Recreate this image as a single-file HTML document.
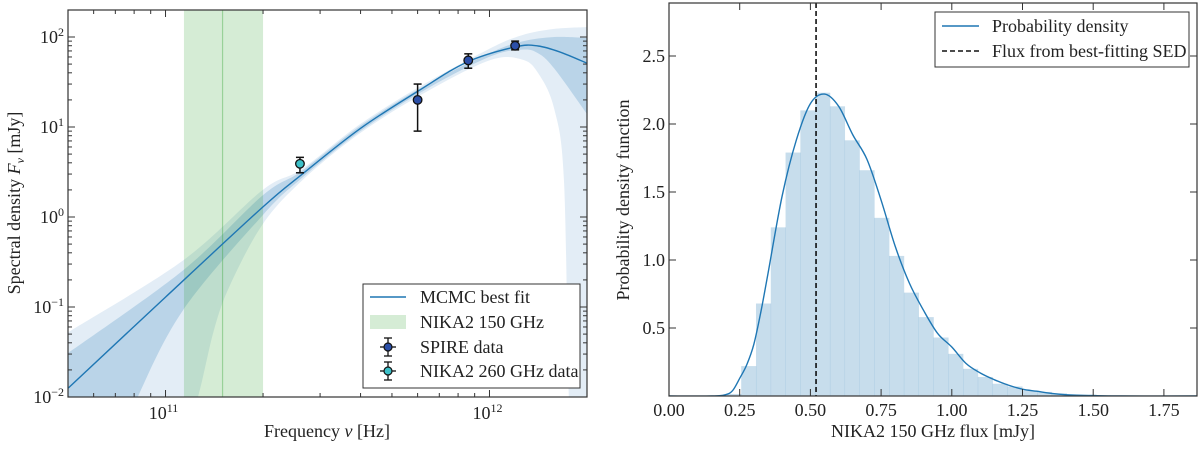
<!DOCTYPE html>
<html><head><meta charset="utf-8"><style>
html,body{margin:0;padding:0;background:#fff;}
svg, svg text{font-family:"Liberation Serif","Times New Roman",serif;}
</style></head><body>
<svg id="fig" width="1200" height="444" viewBox="0 0 1200 444" font-family="Liberation Serif, serif">
<defs>
<clipPath id="clipL"><rect x="68" y="10" width="519" height="387"/></clipPath>
<clipPath id="clipR"><rect x="669" y="3" width="528" height="393"/></clipPath>
</defs>
<g id="left"></g>
<g id="right"></g>
</svg>
<script>
// ---------- SED chart data (log10 frequency, log10 flux) ----------
const fitLogNu   = [10.70, 11.0, 11.3, 11.42, 11.6, 11.78, 11.93, 12.08, 12.15, 12.22, 12.30];
const fitLogS    = [-1.90, -0.89, 0.11, 0.47, 0.98, 1.40, 1.72, 1.89, 1.90, 1.83, 1.71];
const in1UpNu    = [10.70, 11.055, 11.3, 11.42, 11.6, 11.8, 12.0, 12.1, 12.2, 12.3];
const in1UpS     = [-1.51, -0.59, 0.24, 0.51, 1.01, 1.46, 1.82, 1.95, 2.00, 1.99];
const out2UpNu   = [10.70, 11.055, 11.3, 11.42, 11.6, 11.8, 12.0, 12.1, 12.2, 12.3];
const out2UpS    = [-1.28, -0.48, 0.30, 0.53, 1.03, 1.48, 1.87, 2.02, 2.09, 2.11];
const in1LoNu    = [10.85, 10.914, 11.055, 11.3, 11.42, 11.6, 11.8, 12.0, 12.1, 12.15, 12.2, 12.3];
const in1LoS     = [-2.6, -2.0, -1.03, 0.02, 0.43, 0.95, 1.41, 1.78, 1.86, 1.82, 1.65, 1.15];
const out2LoNu   = [11.05, 11.10, 11.15, 11.2, 11.3, 11.42, 11.6, 11.8, 12.0, 12.1, 12.15, 12.2, 12.23, 12.245, 12.26, 12.3];
const out2LoS    = [-2.5, -2.0, -1.25, -0.75, -0.08, 0.40, 0.93, 1.38, 1.74, 1.75, 1.6, 1.2, 0.4, -2.0, -2.6, -2.6];
const bandNu     = [1.14e11, 2.0e11];
const bandCenter = 1.5e11;
const spireNu    = [6.0e11, 8.6e11, 1.2e12];
const spireS     = [20, 55, 80];
const spireLo    = [9, 45, 72];
const spireHi    = [30, 65, 90];
const nikaNu     = [2.6e11];
const nikaS      = [3.9];
const nikaLo     = [3.1];
const nikaHi     = [4.6];
const xTickExp   = [11, 12];
const yTickExp   = [-2, -1, 0, 1, 2];

// ---------- PDF chart data ----------
const binStart   = 0.203;
const binWidth   = 0.0523;
const binHeights = [0.015,0.22,0.68,1.24,1.79,2.10,2.23,2.13,1.88,1.66,1.31,1.03,0.76,0.58,0.43,0.31,0.20,0.14,0.09,0.07,0.04,0.03,0.02,0.01,0.01,0.005];
const kdeX = [0,0.15,0.2,0.225,0.25,0.275,0.3,0.325,0.35,0.4,0.45,0.5,0.55,0.6,0.65,0.7,0.75,0.8,0.85,0.9,0.95,1.0,1.05,1.1,1.15,1.2,1.25,1.3,1.35,1.4,1.5,1.6,1.87];
const kdeY = [0,0,0.01,0.04,0.13,0.23,0.38,0.62,0.90,1.47,1.88,2.15,2.22,2.13,1.92,1.74,1.44,1.10,0.83,0.63,0.46,0.36,0.24,0.17,0.12,0.08,0.05,0.035,0.02,0.01,0.003,0,0];
const bestFlux = 0.52;
const xTicksR = ["0.00","0.25","0.50","0.75","1.00","1.25","1.50","1.75"];
const yTicksR = ["0.5","1.0","1.5","2.0","2.5"];

const NS="http://www.w3.org/2000/svg";
const FF="Liberation Serif, serif";
function el(tag,attrs,parent){const e=document.createElementNS(NS,tag);for(const k in attrs)e.setAttribute(k,attrs[k]);if(tag==='text')e.setAttribute('font-family',FF);parent.appendChild(e);return e;}
function crPath(pts){
  let d="M"+pts[0][0].toFixed(2)+","+pts[0][1].toFixed(2);
  for(let i=0;i<pts.length-1;i++){
    const p0=pts[Math.max(0,i-1)],p1=pts[i],p2=pts[i+1],p3=pts[Math.min(pts.length-1,i+2)];
    const c1=[p1[0]+(p2[0]-p0[0])/6,p1[1]+(p2[1]-p0[1])/6];
    const c2=[p2[0]-(p3[0]-p1[0])/6,p2[1]-(p3[1]-p1[1])/6];
    d+=" C"+c1[0].toFixed(2)+","+c1[1].toFixed(2)+" "+c2[0].toFixed(2)+","+c2[1].toFixed(2)+" "+p2[0].toFixed(2)+","+p2[1].toFixed(2);
  }
  return d;
}
function crPts(pts){ return crPath(pts).replace(/^M[^ ]+/,""); }

// ---------- LEFT ----------
(function(){
const g=document.getElementById('left');
const L=68,R=587,T=10,B=397;
const lx0=Math.log10(5e10), lx1=Math.log10(2e12), ly0=-2, ly1=2.3;
const X=lv=>L+(lv-lx0)/(lx1-lx0)*(R-L);
const Y=lv=>B-(lv-ly0)/(ly1-ly0)*(B-T);
const xf=v=>X(Math.log10(v)), yf=v=>Y(Math.log10(v));
const cg=el('g',{'clip-path':'url(#clipL)'},g);


function bandPath(upNu,upS,loNu,loS){
  const up=upNu.map((n,i)=>[X(n),Y(upS[i])]);
  const lo=loNu.map((n,i)=>[X(n),Y(loS[i])]);
  const upFull=[[L-5,up[0][1]-(up[1][1]-up[0][1])/(up[1][0]-up[0][0])*(up[0][0]-L+5)]].concat(up);
  let d=crPath(upFull);
  d+=" L"+(R+5)+","+up[up.length-1][1]+" L"+(R+5)+","+lo[lo.length-1][1];
  const loR=lo.slice().reverse();
  d+=" L"+loR[0][0]+","+loR[0][1]+crPts(loR);
  d+=" L"+(L-5)+","+(B+20)+" Z";
  return d;
}
const ob=el('path',{d:bandPath(out2UpNu,out2UpS,out2LoNu,out2LoS),fill:'#e3edf6'},cg);


const ib=el('path',{d:bandPath(in1UpNu,in1UpS,in1LoNu,in1LoS),fill:'#bad4e8'},cg);


const gb=el('rect',{x:xf(bandNu[0]),y:T,width:xf(bandNu[1])-xf(bandNu[0]),height:B-T,fill:'#2ca02c','fill-opacity':0.2},cg);


const gl=el('line',{x1:xf(bandCenter),x2:xf(bandCenter),y1:T,y2:B,stroke:'#2ca02c','stroke-opacity':0.35,'stroke-width':1.2},cg);


const fit=el('path',{d:crPath(fitLogNu.map((n,i)=>[X(n),Y(fitLogS[i])])),fill:'none',stroke:'#1f77b4','stroke-width':1.4},cg);


function pts(nu,s,lo,hi,color,name){
  nu.forEach((n,i)=>{
    const x=xf(n),y=yf(s[i]);
    const pg=el('g',{},g);
    
    
    el('line',{x1:x,x2:x,y1:yf(lo[i]),y2:yf(hi[i]),stroke:'#111','stroke-width':1.5},pg);
    el('line',{x1:x-4,x2:x+4,y1:yf(lo[i]),y2:yf(lo[i]),stroke:'#111','stroke-width':1.5},pg);
    el('line',{x1:x-4,x2:x+4,y1:yf(hi[i]),y2:yf(hi[i]),stroke:'#111','stroke-width':1.5},pg);
    el('circle',{cx:x,cy:y,r:4.3,fill:color,stroke:'#111','stroke-width':1.3},pg);
  });
}
pts(spireNu,spireS,spireLo,spireHi,'#2b4fa8','spire-point');
pts(nikaNu,nikaS,nikaLo,nikaHi,'#3cc0c8','nika2-260-point');
const fr=el('rect',{x:L,y:T,width:R-L,height:B-T,fill:'none',stroke:'#333','stroke-width':1.2},g);


for(let e=10;e<=12;e++)for(let m=1;m<=9;m++){
  const v=m*Math.pow(10,e); if(v<5e10||v>2e12)continue;
  const x=xf(v), len=m===1?7:4;
  el('line',{x1:x,x2:x,y1:B,y2:B-len,stroke:'#333','stroke-width':1},g);
  el('line',{x1:x,x2:x,y1:T,y2:T+len,stroke:'#333','stroke-width':1},g);
}
xTickExp.forEach(e=>{
  const t=el('text',{x:xf(Math.pow(10,e))-2,y:B+22,'font-size':18,'text-anchor':'middle',fill:'#222'},g);
  
  
  t.innerHTML='10<tspan dy="-7" font-size="12">'+e+'</tspan>';
});
for(let e=-2;e<=2;e++)for(let m=1;m<=9;m++){
  const v=m*Math.pow(10,e); if(Math.log10(v)>2.3)continue;
  const y=yf(v), len=m===1?7:4;
  el('line',{x1:L,x2:L+len,y1:y,y2:y,stroke:'#333','stroke-width':1},g);
  el('line',{x1:R,x2:R-len,y1:y,y2:y,stroke:'#333','stroke-width':1},g);
}
yTickExp.forEach(e=>{
  const t=el('text',{x:L-4,y:yf(Math.pow(10,e))+6,'font-size':18,'text-anchor':'end',fill:'#222'},g);
  
  
  t.innerHTML='10<tspan dy="-7" font-size="12">'+(e<0?'\u2212'+(-e):e)+'</tspan>';
});
const xt=el('text',{x:327,y:437,'font-size':18,'text-anchor':'middle',fill:'#222'},g);


xt.innerHTML='Frequency <tspan font-style="italic">ν</tspan> [Hz]';
const yt=el('text',{x:0,y:0,'font-size':18,'text-anchor':'middle',fill:'#222',transform:'translate(20,203) rotate(-90)'},g);


yt.innerHTML='Spectral density <tspan font-style="italic">F</tspan><tspan font-style="italic" font-size="12" dy="4">ν</tspan><tspan dy="-4"> [mJy]</tspan>';
const lg=el('g',{},g);


el('rect',{x:363,y:284,width:217,height:104,fill:'#fff',stroke:'#333','stroke-width':1},lg);
const ly=[297,322,347,371], lbl=['MCMC best fit','NIKA2 150 GHz','SPIRE data','NIKA2 260 GHz data'];
el('line',{x1:370,x2:406,y1:ly[0],y2:ly[0],stroke:'#1f77b4','stroke-width':1.4},lg);
el('rect',{x:370,y:ly[1]-7,width:36,height:14,fill:'#2ca02c','fill-opacity':0.2},lg);
[[2,'#2b4fa8'],[3,'#3cc0c8']].forEach(([k,c])=>{
  const y=ly[k];
  el('line',{x1:380,x2:396,y1:y,y2:y,stroke:'#111','stroke-width':1.3},lg);
  el('line',{x1:388,x2:388,y1:y-9,y2:y+9,stroke:'#111','stroke-width':1.3},lg);
  el('line',{x1:384,x2:392,y1:y-9,y2:y-9,stroke:'#111','stroke-width':1.3},lg);
  el('line',{x1:384,x2:392,y1:y+9,y2:y+9,stroke:'#111','stroke-width':1.3},lg);
  el('circle',{cx:388,cy:y,r:4,fill:c,stroke:'#111','stroke-width':1.2},lg);
});
lbl.forEach((s,i)=>{
  const t=el('text',{x:420,y:ly[i]+6,'font-size':18,fill:'#222'},lg);
  
  
  t.textContent=s;
});
})();

// ---------- RIGHT ----------
(function(){
const g=document.getElementById('right');
const L=669,R=1197,T=3,B=396;
const X=v=>L+v*282.8, Y=v=>B-v*136;
const cg=el('g',{'clip-path':'url(#clipR)'},g);
binHeights.forEach((h,i)=>{
  const x0=X(binStart+i*binWidth), x1=X(binStart+(i+1)*binWidth);
  const r=el('rect',{x:x0,y:Y(h),width:x1-x0+0.3,height:B-Y(h),fill:'#1f77b4','fill-opacity':0.25},cg);
  
  
});
const kd=el('path',{d:crPath(kdeX.map((x,i)=>[X(x),Y(kdeY[i])])),fill:'none',stroke:'#1f77b4','stroke-width':1.4},cg);


const dl=el('line',{x1:X(bestFlux),x2:X(bestFlux),y1:T,y2:B,stroke:'#111','stroke-width':1.6,'stroke-dasharray':'5,3'},cg);


const fr=el('rect',{x:L,y:T,width:R-L,height:B-T,fill:'none',stroke:'#333','stroke-width':1.2},g);


xTicksR.forEach(s=>{
  const x=X(parseFloat(s));
  el('line',{x1:x,x2:x,y1:B,y2:B-7,stroke:'#333','stroke-width':1},g);
  el('line',{x1:x,x2:x,y1:T,y2:T+7,stroke:'#333','stroke-width':1},g);
  const t=el('text',{x:x,y:B+20,'font-size':18,'text-anchor':'middle',fill:'#222'},g);
  
  
  t.textContent=s;
});
yTicksR.forEach(s=>{
  const y=Y(parseFloat(s));
  el('line',{x1:L,x2:L+7,y1:y,y2:y,stroke:'#333','stroke-width':1},g);
  el('line',{x1:R,x2:R-7,y1:y,y2:y,stroke:'#333','stroke-width':1},g);
  const t=el('text',{x:L-4,y:y+6,'font-size':18,'text-anchor':'end',fill:'#222'},g);
  
  
  t.textContent=s;
});
const xt=el('text',{x:933,y:437,'font-size':18,'text-anchor':'middle',fill:'#222'},g);


xt.textContent='NIKA2 150 GHz flux [mJy]';
const yt=el('text',{x:0,y:0,'font-size':18,'text-anchor':'middle',fill:'#222',transform:'translate(629,200) rotate(-90)'},g);


yt.textContent='Probability density function';
const lg=el('g',{},g);


el('rect',{x:935,y:12,width:254,height:55,fill:'#fff',stroke:'#333','stroke-width':1},lg);
el('line',{x1:942,x2:979,y1:26,y2:26,stroke:'#1f77b4','stroke-width':1.4},lg);
el('line',{x1:942,x2:979,y1:51,y2:51,stroke:'#111','stroke-width':1.6,'stroke-dasharray':'5,3'},lg);
[['Probability density',26],['Flux from best-fitting SED',51]].forEach(([s,y])=>{
  const t=el('text',{x:992,y:y+6,'font-size':18,fill:'#222'},lg);
  
  
  t.textContent=s;
});
})();
</script>
</body></html>
